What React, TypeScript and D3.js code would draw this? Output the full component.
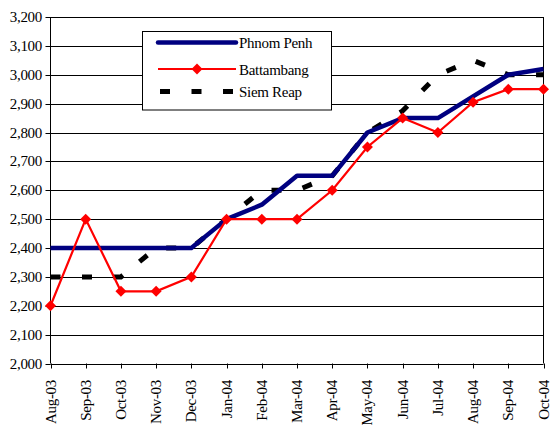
import React from "react";
import * as d3 from "d3";

const months = ["Aug-03","Sep-03","Oct-03","Nov-03","Dec-03","Jan-04","Feb-04","Mar-04","Apr-04","May-04","Jun-04","Jul-04","Aug-04","Sep-04","Oct-04"];
const phnomPenh = [2400,2400,2400,2400,2400,2500,2550,2650,2650,2800,2850,2850,2925,3000,3020];
const battambang = [2200,2500,2250,2250,2300,2500,2500,2500,2600,2750,2850,2800,2905,2950,2950];
const siemReap = [2300,2300,2300,2400,2400,2500,2600,2600,2650,2800,2875,3000,3050,3000,3000];
const yTicks = [2000,2100,2200,2300,2400,2500,2600,2700,2800,2900,3000,3100,3200];

const W = 551, H = 425;
const left = 50.5, right = 543.5, top = 17, bottom = 363.5;
const font = "Liberation Serif";

export default function App() {
  const x = d3.scalePoint<string>().domain(months).range([left, right]);
  const y = d3.scaleLinear().domain([2000, 3200]).range([bottom, top]);
  const line = d3.line<number>().x((_, i) => x(months[i])!).y((d) => y(d));
  const fmt = d3.format(",");
  const diamond = (cx: number, cy: number, r = 5.5) =>
    `M${cx},${cy - r}L${cx + r},${cy}L${cx},${cy + r}L${cx - r},${cy}Z`;

  return (
    <svg width={W} height={H} style={{ position: "absolute", left: 0, top: 0, background: "#fff" }}>
      <rect x={0} y={0} width={W} height={H} fill="#fff" />
      {yTicks.map((t) => (
        <g key={t}>
          <line x1={left} x2={right} y1={Math.round(y(t)) + 0.5} y2={Math.round(y(t)) + 0.5} stroke="#000" strokeWidth={1} />
          <line x1={left - 5} x2={left} y1={Math.round(y(t)) + 0.5} y2={Math.round(y(t)) + 0.5} stroke="#000" />
          <text x={42} y={y(t) + 5} textAnchor="end" fontFamily={font} fontSize={15} letterSpacing={-0.3} fill="#000">{fmt(t)}</text>
        </g>
      ))}
      <line x1={left} x2={left} y1={top} y2={bottom} stroke="#000" />
      <line x1={right} x2={right} y1={top} y2={bottom} stroke="#000" />
      {months.map((m) => (
        <g key={m}>
          <line x1={Math.round(x(m)!) + 0.5} x2={Math.round(x(m)!) + 0.5} y1={bottom} y2={bottom + 5} stroke="#000" />
          <text transform={`translate(${x(m)! + 5},${380}) rotate(-90)`} textAnchor="end" fontFamily={font} fontSize={15} letterSpacing={-0.3} fill="#000">{m}</text>
        </g>
      ))}
      <path d={line(siemReap)!} fill="none" stroke="#000" strokeWidth={5} strokeDasharray="10,21.5" />
      <path d={line(phnomPenh)!} fill="none" stroke="#000080" strokeWidth={4.5} strokeLinejoin="round" />
      <path d={line(battambang)!} fill="none" stroke="#ff0000" strokeWidth={2.2} />
      {battambang.map((v, i) => (
        <path key={i} d={diamond(x(months[i])!, y(v))} fill="#ff0000" />
      ))}
      <g>
        <rect x={142.5} y={31.5} width={189} height={78.5} fill="#fff" stroke="#000" />
        <line x1={158} x2={236} y1={42.5} y2={42.5} stroke="#000080" strokeWidth={4.5} strokeLinecap="round" />
        <text x={239} y={48} fontFamily={font} fontSize={15} letterSpacing={-0.3}>Phnom Penh</text>
        <line x1={158} x2={236} y1={69} y2={69} stroke="#ff0000" strokeWidth={2.2} />
        <path d={diamond(197, 69)} fill="#ff0000" />
        <text x={239} y={74.5} fontFamily={font} fontSize={15} letterSpacing={-0.3}>Battambang</text>
        <line x1={160} x2={236} y1={91.5} y2={91.5} stroke="#000" strokeWidth={5} strokeDasharray="10,21.5" />
        <text x={239} y={97} fontFamily={font} fontSize={15} letterSpacing={-0.3}>Siem Reap</text>
      </g>
    </svg>
  );
}
